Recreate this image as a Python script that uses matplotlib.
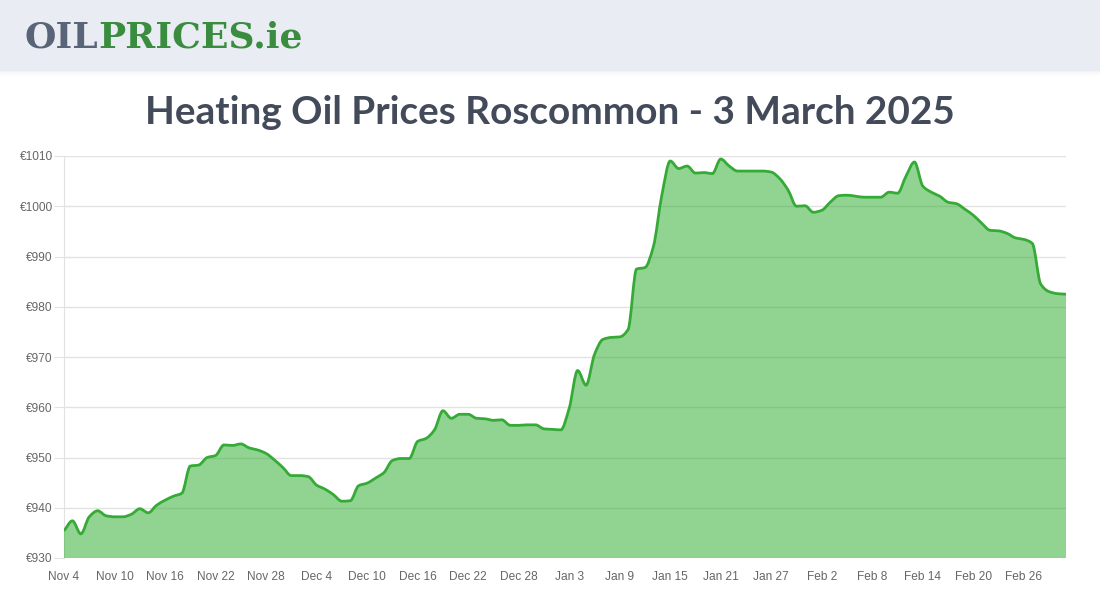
import matplotlib
matplotlib.use("Agg")
import matplotlib.pyplot as plt
import numpy as np
import pandas as pd
from matplotlib.path import Path
from matplotlib.patches import PathPatch, Rectangle

# daily heating oil price, Roscommon, from Nov 4 2024
start_date = "2024-11-04"
prices = [
    935.4, 937.4, 934.8, 938.2, 939.4, 938.4, 938.2, 938.2, 938.7, 939.8,
    939.0, 940.5, 941.5, 942.3, 942.9, 948.3, 948.5, 950.0, 950.4, 952.5,
    952.4, 952.7, 951.9, 951.5, 950.8, 949.5, 948.0, 946.4, 946.4, 946.2,
    944.5, 943.7, 942.6, 941.3, 941.4, 944.4, 944.9, 945.9, 947.0, 949.4,
    949.8, 949.8, 953.2, 953.8, 955.5, 959.3, 957.8, 958.6, 958.6, 957.8,
    957.7, 957.4, 957.5, 956.4, 956.4, 956.5, 956.5, 955.7, 955.6, 955.5,
    959.8, 967.3, 964.4, 970.5, 973.5, 973.9, 974.0, 975.5, 987.5, 987.8,
    992.0, 1002.2, 1009.0, 1007.5, 1008.0, 1006.6, 1006.7, 1006.5, 1009.4, 1008.0,
    1007.0, 1007.0, 1007.0, 1007.0, 1006.8, 1005.5, 1003.2, 1000.0, 1000.1, 998.8,
    999.2, 1000.8, 1002.1, 1002.2, 1002.0, 1001.8, 1001.8, 1001.8, 1002.8, 1002.6,
    1006.0, 1008.8, 1004.0, 1002.8, 1002.0, 1000.8, 1000.5, 999.4, 998.2, 996.6,
    995.2, 995.1, 994.6, 993.7, 993.4, 992.6, 984.5, 983.0, 982.6, 982.5,
]
y_ticks = [930, 940, 950, 960, 970, 980, 990, 1000, 1010]
title = "Heating Oil Prices Roscommon - 3 March 2025"

dates = pd.date_range(start_date, periods=len(prices), freq="D")
x = np.arange(len(prices), dtype=float)
y = np.array(prices)

# monotone cubic tangents (Fritsch-Carlson) -> bezier path
d = np.diff(y)
m = np.zeros_like(y)
m[0], m[-1] = d[0], d[-1]
for i in range(1, len(y) - 1):
    if d[i - 1] * d[i] <= 0:
        m[i] = 0
    else:
        m[i] = 2 / (1 / d[i - 1] + 1 / d[i])

verts = [(x[0], y[0])]
codes = [Path.MOVETO]
for i in range(len(x) - 1):
    verts += [(x[i] + 1/3, y[i] + m[i]/3), (x[i+1] - 1/3, y[i+1] - m[i+1]/3), (x[i+1], y[i+1])]
    codes += [Path.CURVE4] * 3
line_path = Path(verts, codes)
fill_path = Path(verts + [(x[-1], 930), (x[0], 930), (x[0], y[0])],
                 codes + [Path.LINETO, Path.LINETO, Path.CLOSEPOLY])

fig = plt.figure(figsize=(11, 6), dpi=100)

# header band
fig.patches.append(Rectangle((0, 1 - 70/600), 1, 70/600, transform=fig.transFigure,
                             color="#E9ECF3", zorder=0))
for k in range(6):
    fig.patches.append(Rectangle((0, 1 - (71 + k)/600), 1, 1/600, transform=fig.transFigure,
                                 color="#E9ECF3", alpha=0.5 - k*0.08, lw=0, zorder=0))

t1 = fig.text(25/1100, 1 - 38/600, "OIL", fontsize=26, fontweight="heavy",
              family="DejaVu Serif", color="#5A6478", va="center", ha="left")
fig.canvas.draw()
bb = t1.get_window_extent()
fig.text(bb.x1/1100, 1 - 38/600, "PRICES.ie", fontsize=26, fontweight="heavy",
         family="DejaVu Serif", color="#3A8C3F", va="center", ha="left")

tt = fig.text(0.5, 1 - 113/600, title, fontsize=30, fontweight="bold",
              family=["Lato", "DejaVu Sans"], color="#434A59",
              ha="center", va="center")
fig.canvas.draw()
w = tt.get_window_extent().width
tt.set_fontsize(30 * 810 / w)

ax = fig.add_axes([64/1100, 42/600, 1002/1100, 402/600])
ax.add_patch(PathPatch(fill_path, facecolor=(37/255, 171/255, 37/255, 0.5), lw=0, zorder=3))
ax.add_patch(PathPatch(line_path, facecolor="none", edgecolor="#36AA36", lw=2, zorder=4))

ax.set_xlim(0, len(prices) - 1)
ax.set_ylim(930, 1010)
ax.set_yticks(y_ticks)
ax.set_yticklabels([f"€{v}" for v in y_ticks])
tick_idx = list(range(0, len(prices), 6))
ax.set_xticks(tick_idx)
ax.set_xticklabels([f"{dates[i]:%b} {dates[i].day}" for i in tick_idx])

ax.set_axisbelow(True)
ax.grid(axis="y", color="#E2E2E2", lw=1)
for s in ["top", "right", "bottom"]:
    ax.spines[s].set_visible(False)
ax.spines["left"].set_color("#E2E2E2")
ax.tick_params(axis="y", length=7, color="#E2E2E2", pad=1, labelsize=8.6, labelcolor="#666666")
ax.tick_params(axis="x", length=0, pad=9, labelsize=8.6, labelcolor="#666666")
for lab in ax.get_xticklabels() + ax.get_yticklabels():
    lab.set_family("Liberation Sans")

fig.savefig("out.png", dpi=100)
